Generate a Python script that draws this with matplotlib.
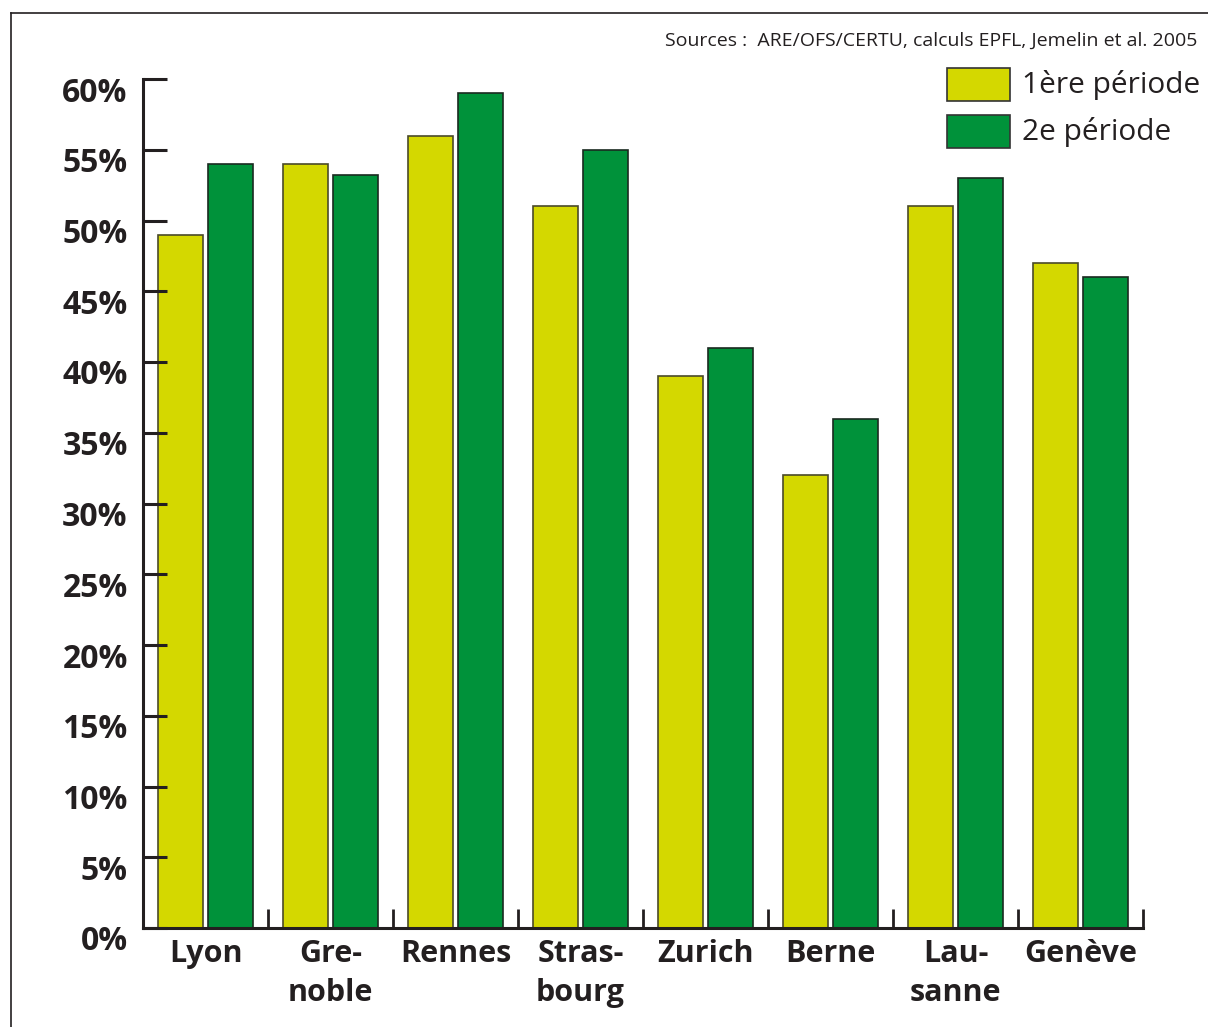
import matplotlib
matplotlib.use("Agg")
import matplotlib.pyplot as plt
import matplotlib.transforms as mtransforms
import numpy as np
from matplotlib.patches import Rectangle
from matplotlib.lines import Line2D

# values
cities = ["Lyon", "Gre-\nnoble", "Rennes", "Stras-\nbourg", "Zurich", "Berne", "Lau-\nsanne", "Genève"]
period1 = [49, 54, 56, 51, 39, 32, 51, 47]
period2 = [54, 53.2, 59, 55, 41, 36, 53, 46]
series_names = ["1ère période", "2e période"]
y_ticks = [0, 5, 10, 15, 20, 25, 30, 35, 40, 45, 50, 55, 60]

YELLOW = "#D4D800"
GREEN = "#00923A"
DARK = "#231F20"

plt.rcParams['font.family'] = ['Open Sans', 'DejaVu Sans']

W, H = 1208, 1027
fig = plt.figure(figsize=(W / 100, H / 100), dpi=100)
ax = fig.add_axes([143 / W, (H - 928) / H, (1143 - 143) / W, (928 - 79) / H])

x = np.arange(len(cities))
width = 0.36
ax.bar(x - 0.2, period1, width, color=YELLOW, edgecolor="#4a4a2a", linewidth=1.2, label=series_names[0])
ax.bar(x + 0.2, period2, width, color=GREEN, edgecolor="#1a2a20", linewidth=1.2, label=series_names[1])

ax.set_xlim(-0.5, len(cities) - 0.5)
ax.set_ylim(0, 60)

for s in ["top", "right"]:
    ax.spines[s].set_visible(False)
for s in ["left", "bottom"]:
    ax.spines[s].set_linewidth(2.2)
    ax.spines[s].set_color(DARK)

ax.set_yticks(y_ticks)
ax.set_yticklabels([f"{v}%" for v in y_ticks], fontsize=23, fontweight="bold", color=DARK)
ax.tick_params(axis="y", direction="in", length=17, width=2.2, color=DARK, pad=11)
# labels sit a little below their ticks in the original
shift = mtransforms.ScaledTranslation(0, -10 / 100, fig.dpi_scale_trans)
for lab in ax.get_yticklabels():
    lab.set_transform(lab.get_transform() + shift)

ax.set_xticks(x)
ax.set_xticklabels(cities, fontsize=22, fontweight="bold", color=DARK, linespacing=1.4, va="top")
ax.tick_params(axis="x", which="major", length=0, pad=8)
ax.set_xticks(np.arange(len(cities) + 1) - 0.5, minor=True)
ax.tick_params(axis="x", which="minor", direction="in", length=14, width=2.0, color=DARK)

# legend drawn in figure coordinates
for i, (name, col) in enumerate(zip(series_names, [YELLOW, GREEN])):
    top = 68 + i * 47
    fig.patches.append(Rectangle((947 / W, (H - top - 33) / H), 63 / W, 33 / H,
                                 transform=fig.transFigure, facecolor=col,
                                 edgecolor="#333333", linewidth=1.2))
    fig.text(1022 / W, (H - top - 17) / H, name, fontsize=21.5, color=DARK, va="center", ha="left")

fig.text(1197 / W, (H - 41) / H, "Sources :  ARE/OFS/CERTU, calculs EPFL, Jemelin et al. 2005",
         fontsize=14, color=DARK, ha="right", va="center")

# outer frame (top and left edges visible)
fig.add_artist(Line2D([11 / W, 1], [(H - 13) / H, (H - 13) / H], transform=fig.transFigure, color=DARK, lw=1.2))
fig.add_artist(Line2D([11 / W, 11 / W], [0, (H - 13) / H], transform=fig.transFigure, color=DARK, lw=1.2))

fig.savefig("out.png", dpi=100)
